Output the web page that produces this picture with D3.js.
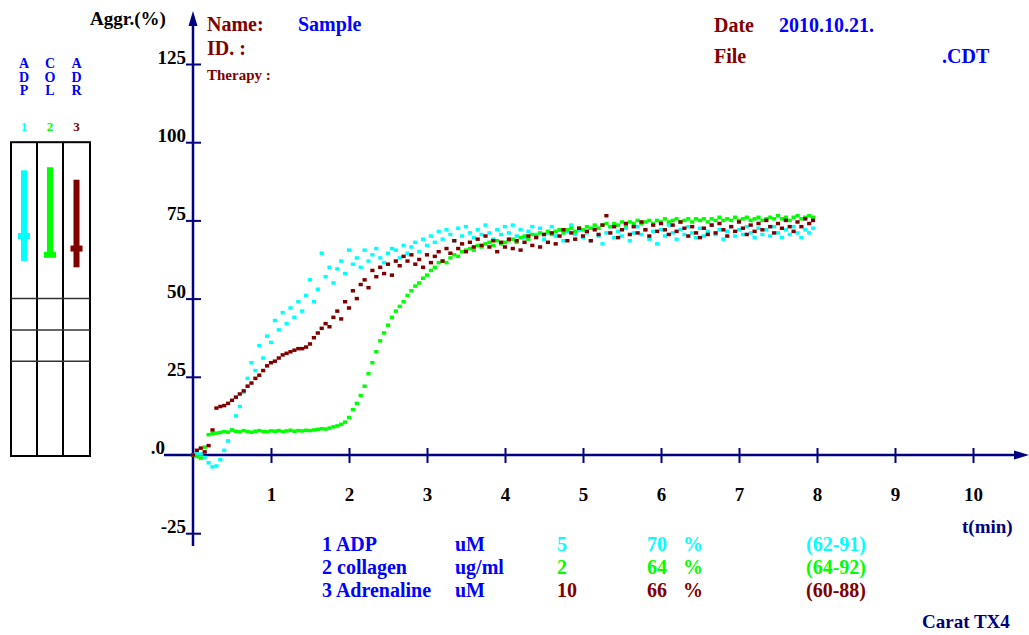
<!DOCTYPE html>
<html>
<head>
<meta charset="utf-8">
<script src="https://cdn.jsdelivr.net/npm/d3@7"></script>
<style>
  body { margin: 0; background: #fff; }
  text { font-family: "Liberation Serif", "Times New Roman", serif; font-weight: bold; }
</style>
</head>
<body>
<svg id="chart" width="1029" height="635"></svg>
<script>
// readings every 0.05 min, aggregation in %
var tStep = 0.05;
var adpVals = [0, 0.5, 0.3, -0.8, -2.5, -3.8, -3.5, -1.5, 1.5, 4.5,
  8, 12.5, 15.5, 20, 24.5, 29.5, 27, 35, 31, 38,
  36, 43, 40, 45.5, 42, 47, 44, 49, 46, 51,
  56, 49, 53, 64.5, 57, 60, 55, 59.5, 62, 58,
  65.5, 61, 63, 60, 65.5, 62, 64, 66, 63, 61.5,
  64.5, 66, 65.5, 63, 67, 64.5, 66.5, 68, 65, 69,
  67, 70, 68, 71.5, 69, 72, 70.5, 68.5, 72.5, 70,
  73, 71, 69.5, 72, 70.5, 73.5, 71, 69, 72, 70.5,
  73, 71, 73.5, 70, 72, 69.5, 71.5, 73, 70.5, 72.5,
  69, 71, 73, 70, 72, 68.5, 71.5, 73.5, 70.5, 72,
  69.5, 71, 68.5, 72.5, 70, 67.5, 71, 73, 69.5, 71.5,
  70, 72.5, 68.5, 71, 73, 70.5, 72, 69, 71.5, 67.5,
  72, 70, 73.5, 71, 69, 72, 70.5, 73, 71, 69.5,
  72.5, 70, 71.5, 73.5, 70.5, 72, 69, 71.5, 73, 70,
  72, 70.5, 73, 71, 69.5, 72.5, 70.5, 72, 70, 73,
  71, 69.5, 72, 70.5, 73, 71, 69.5, 72, 71, 72.5];
var colVals = [0, -0.5, -1, 2.5, 6.5, 6.8, 7, 7.2, 7.5, 7.3,
  8, 7.6, 7.4, 7.8, 7.5, 7.3, 7.6, 7.8, 7.5, 7.4,
  7.7, 7.6, 7.8, 7.5, 7.7, 7.9, 7.6, 7.8, 7.7, 7.9,
  7.8, 8, 8.2, 8.4, 8.3, 8.6, 9, 9.3, 9.8, 10.5,
  12, 14.5, 16.5, 19, 22, 26, 29.5, 33, 36.5, 39,
  41.5, 44, 46, 47.5, 49, 51, 52.5, 54, 55, 56.5,
  57.5, 59, 60, 61.5, 62, 61.5, 63, 64, 63.5, 65,
  65.5, 66, 65.5, 67, 66.5, 67.5, 68, 67, 68.5, 67.5,
  68, 68.5, 69, 68, 69.5, 70, 69, 70.5, 70, 71,
  70.5, 71.5, 70.5, 71.5, 72, 71, 72, 72.5, 71.5, 72.5,
  72, 73, 72.5, 73.5, 72.5, 73.5, 74, 73, 74, 73.5,
  74.5, 73.5, 74.5, 74, 75, 74, 74.5, 75, 74, 75,
  74.5, 75.5, 74.5, 75, 75.5, 74.5, 75, 75.5, 74.5, 75.5,
  75, 75.5, 74.5, 75.5, 75, 76, 75, 75.5, 75, 76,
  75, 75.5, 76, 75, 75.5, 76, 75, 75.5, 76, 75.5,
  76.5, 75.5, 76, 75, 76, 76.5, 75.5, 76, 76.5, 76];
var adrVals = [0, 1.5, 2.2, 1, 3, 8, 15, 15.5, 15.8, 16.5,
  17.5, 18.5, 19.5, 20.5, 22, 23, 24.5, 25.5, 27, 28.5,
  29.5, 30, 31, 32, 32.5, 33, 33.5, 34, 34, 34.5,
  35.5, 37.5, 39, 40.5, 42, 41, 44, 46, 43.5, 49,
  47, 52.5, 50, 54.5, 56, 53.5, 59, 57, 60, 58,
  61, 57.5, 62, 60.5, 63.5, 62, 64, 61, 62.5, 60,
  64, 61.5, 63.5, 65, 62, 66, 64.5, 68.5, 66, 67.5,
  65, 68, 66.5, 69, 67, 70, 66.5, 68.5, 65, 68,
  66.5, 69, 66, 68.5, 65.5, 68, 70, 67, 69.5, 66.5,
  70.5, 68, 71, 67.5, 70, 72, 68.5, 71, 69, 72.5,
  70, 71.5, 68.5, 72, 70.5, 73.5, 76.5, 71, 73, 69.5,
  72, 74, 70.5, 73, 71, 74.5, 72, 70, 73.5, 71.5,
  74, 72, 70.5, 73.5, 71.5, 74.5, 72.5, 70, 73, 71,
  69.5, 72.5, 70.5, 73.5, 71, 74, 72, 70, 73, 71.5,
  74.5, 72.5, 70.5, 73.5, 71.5, 74, 72, 75, 73, 71,
  74, 72.5, 75, 73, 71.5, 74.5, 73, 75.5, 74, 75];

var yTicks = [-25, 25, 50, 75, 100, 125];
var xTicks = [1, 2, 3, 4, 5, 6, 7, 8, 9, 10];

// channels (side panel + table)
var chanCodes = ["ADP", "COL", "ADR"];
var chanNums = ["1", "2", "3"];
var chanColors = ["#00ffff", "#00ff00", "#800000"];
var agonists = ["1 ADP", "2 collagen", "3 Adrenaline"];
var units = ["uM", "ug/ml", "uM"];
var doses = ["5", "2", "10"];
var results = [70, 64, 66];
var refLow = [62, 64, 60];
var refHigh = [91, 92, 88];
var panelLines = [50, 40, 30];

var navy = "#000080", dred = "#800000", blue = "#0000ff";

var svg = d3.select("#chart");
var x = d3.scaleLinear().domain([0, 10]).range([193, 973]);
var y = d3.scaleLinear().domain([0, 100]).range([455, 142.2]);

// header texts
function txt(tx, ty, s, col, size) {
  return svg.append("text").attr("x", tx).attr("y", ty).attr("fill", col)
    .attr("font-size", size || 20).text(s);
}
txt(90, 25, "Aggr.(%)", "#000", 19);
txt(207, 31, "Name:", dred);
txt(298, 31, "Sample", blue);
txt(207, 55, "ID. :", dred);
txt(207, 80, "Therapy :", dred, 15);
txt(714, 32, "Date", dred);
txt(779, 32, "2010.10.21.", blue);
txt(714, 63, "File", dred);
txt(942, 63, ".CDT", blue);
txt(962, 533, "t(min)", navy, 19);
txt(922, 628, "Carat TX4", navy, 19);

// side panel
var px = [11, 37, 63, 90];
var panel = svg.append("g");
chanCodes.forEach(function (c, i) {
  var cx = (px[i] + px[i + 1]) / 2;
  c.split("").forEach(function (ch, k) {
    panel.append("text").attr("x", cx).attr("y", 68 + k * 13.5)
      .attr("text-anchor", "middle").attr("font-size", 14).attr("fill", blue).text(ch);
  });
  panel.append("text").attr("x", cx).attr("y", 131).attr("text-anchor", "middle")
    .attr("font-size", 13).attr("fill", chanColors[i]).text(chanNums[i]);
  panel.append("rect").attr("x", cx - 3).attr("width", 6)
    .attr("y", y(refHigh[i])).attr("height", y(refLow[i]) - y(refHigh[i]))
    .attr("fill", chanColors[i]);
  panel.append("rect").attr("x", cx - 6).attr("width", 12)
    .attr("y", y(results[i]) - 3).attr("height", 6).attr("fill", chanColors[i]);
});
panel.append("rect").attr("x", px[0]).attr("y", y(100)).attr("width", px[3] - px[0])
  .attr("height", y(0) - y(100) + 1).attr("fill", "none").attr("stroke", "#000").attr("stroke-width", 2);
[px[1], px[2]].forEach(function (lx) {
  panel.append("line").attr("x1", lx).attr("x2", lx).attr("y1", y(100)).attr("y2", y(0) + 1)
    .attr("stroke", "#000").attr("stroke-width", 2);
});
panelLines.forEach(function (v) {
  panel.append("line").attr("x1", px[0]).attr("x2", px[3]).attr("y1", y(v)).attr("y2", y(v))
    .attr("stroke", "#333").attr("stroke-width", 1.5);
});

// axes
var gy = svg.append("g").attr("transform", "translate(193,0)")
  .call(d3.axisLeft(y).tickValues(yTicks).tickFormat(function (d) { return String(d); }));
gy.attr("font-family", null).attr("font-size", 19);
gy.select(".domain").remove();
gy.selectAll(".tick line").attr("x1", -7).attr("x2", 8).attr("stroke", navy).attr("stroke-width", 2);
gy.selectAll(".tick text").attr("x", -7).attr("dy", 0).attr("y", -1).attr("fill", "#000");

var gx = svg.append("g").attr("transform", "translate(0,455)")
  .call(d3.axisBottom(x).tickValues(xTicks).tickFormat(function (d) { return String(d); }));
gx.attr("font-family", null).attr("font-size", 19);
gx.select(".domain").remove();
gx.selectAll(".tick line").attr("y1", -7).attr("y2", 8).attr("stroke", navy).attr("stroke-width", 2);
gx.selectAll(".tick text").attr("y", 46).attr("dy", 0).attr("fill", "#000");

txt(165, 454, ".0", "#000", 19).attr("text-anchor", "end");

svg.append("line").attr("x1", 193).attr("x2", 193).attr("y1", 546).attr("y2", 20)
  .attr("stroke", navy).attr("stroke-width", 2.5);
svg.append("path").attr("d", "M193,11 L197.5,26 L188.5,26 Z").attr("fill", navy);
svg.append("line").attr("x1", 164).attr("x2", 1018).attr("y1", 455).attr("y2", 455)
  .attr("stroke", navy).attr("stroke-width", 2.5);
svg.append("path").attr("d", "M1029,455 L1014,450.5 L1014,459.5 Z").attr("fill", navy);

// curves
[adpVals, colVals, adrVals].forEach(function (vals, i) {
  svg.append("g").selectAll("rect").data(vals).join("rect")
    .attr("x", function (d, k) { return x(k * tStep) - 2.1; })
    .attr("y", function (d) { return y(d) - 1.75; })
    .attr("width", 4.2).attr("height", 3.5)
    .attr("fill", chanColors[i]);
});

// results table
var rowY = [551, 574, 597];
agonists.forEach(function (a, i) {
  txt(322, rowY[i], a, blue);
  txt(455, rowY[i], units[i], blue);
  txt(557, rowY[i], doses[i], chanColors[i]).attr("font-weight", "normal");
  txt(667, rowY[i], String(results[i]), chanColors[i]).attr("text-anchor", "end").attr("font-weight", "normal");
  txt(683, rowY[i], "%", chanColors[i]).attr("font-weight", "normal");
  txt(806, rowY[i], "(" + refLow[i] + "-" + refHigh[i] + ")", chanColors[i]).attr("font-weight", "normal");
});
</script>
</body>
</html>
